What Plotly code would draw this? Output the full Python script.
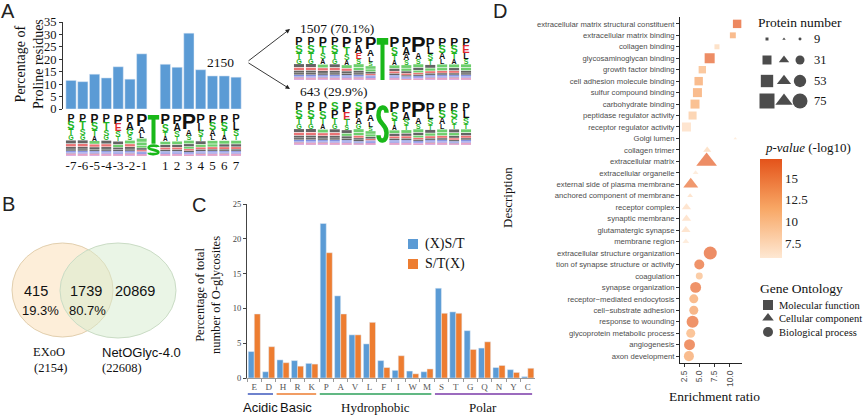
import math
import plotly.graph_objects as go

W, H = 865, 415
TIMES = 'Liberation Serif'
SANS = 'Liberation Sans'

# ---------------- Panel A data ----------------
a_positions = [-7, -6, -5, -4, -3, -2, -1, 1, 2, 3, 4, 5, 6, 7]
a_pos_labels = ['-7', '-6', '-5', '-4', '-3', '-2', '-1', '1', '2', '3', '4', '5', '6', '7']
proline_pct = [11.5, 11.0, 14.0, 12.5, 17.0, 12.0, 22.2, 18.0, 16.8, 30.5, 15.8, 13.3, 13.3, 12.8]
a_y_ticks = [0, 5, 10, 15, 20, 25, 30, 35]
total_sites = 2150
t_sites, t_pct = 1507, '70.1%'
s_sites, s_pct = 643, '29.9%'

# sequence-logo columns (top -> bottom), flanking positions -7..-1, +1..+7
logo_A_cols = ["PSTGAELVKRDQN", "PTSGAELVRKQDN", "PSTAGELVKRDQN", "PTSGAELVRKQDN",
               "PESTAGLVKRQDN", "PAGSTELVKRDQN", "PALSGTVEKRQDN",
               "PSTAGLEVKRQDN", "PASTGLEVRKQDN", "PASTLGEVKRQDN", "PLSTAGEVKRDQN",
               "PSALTGEVKRQDN", "PSTAGLEVKRDQN", "PLSTGAEVRKQDN"]
logo_T_cols = ["PSTGAELVKRDQN", "PSTGAELVRKQDN", "PTSAGELVKRDQN", "PSTGAELVRKQDN",
               "PTSAGELVKRQDN", "PAESTGLVKRDQN", "PALSGTVEKRQDN",
               "PSTAGLEVKRQDN", "PAASTGLEVRKQD", "PASTLGEVKRQDN", "PLSTAGEVKRDQN",
               "PSALTGEVKRQDN", "PSTAGLEVKRDQN", "PELSTGAVRKQDN"]
logo_S_cols = ["PSTGAELVKRDQN", "PSTGAELVRKQDN", "PSTAGELVKRDQN", "SPTGAELVRKQDN",
               "PETSAGLVKRQDN", "SPAGCTELVKRDQ", "PALSGTVEKRQDN",
               "PSTAGLEVKRQDN", "PASTGLEVRKQDN", "PASTLGEVKRQDN", "PLSTAGEVKRDQN",
               "PSALTGEVKRQDN", "PSCTAGLEVKRDQ", "PLSTGAEVRKQDN"]

# ---------------- Panel B data ----------------
venn_counts = [415, 1739, 20869]
venn_pcts = ['19.3%', '80.7%']
venn_sets = ['EXoO', 'NetOGlyc-4.0']
venn_totals = [2154, 22608]

# ---------------- Panel C data ----------------
aa = ['E', 'D', 'H', 'R', 'K', 'P', 'A', 'V', 'L', 'F', 'I', 'W', 'M', 'S', 'T', 'G', 'Q', 'N', 'Y', 'C']
xst = [3.8, 0.9, 2.6, 2.5, 2.1, 22.2, 11.8, 6.2, 4.9, 2.5, 1.1, 1.0, 0.9, 12.9, 9.5, 6.8, 4.3, 1.5, 1.2, 0.2]
stx = [9.2, 4.5, 2.2, 1.7, 2.0, 18.0, 9.2, 6.2, 8.0, 1.5, 3.2, 0.6, 1.3, 9.3, 9.3, 4.1, 5.2, 1.8, 0.8, 1.4]
c_series = ['(X)S/T', 'S/T(X)']
c_colors = ['#5b9bd5', '#ed7d31']
aa_groups = ['Acidic', 'Basic', 'Hydrophobic', 'Polar']
aa_group_members = [['E', 'D'], ['H', 'R', 'K'], ['P', 'A', 'V', 'L', 'F', 'I', 'W', 'M'],
                    ['S', 'T', 'G', 'Q', 'N', 'Y', 'C']]

# ---------------- Panel D data ----------------
go_terms = ['extracellular matrix structural constituent', 'extracellular matrix binding', 'collagen binding',
            'glycosaminoglycan binding', 'growth factor binding', 'cell adhesion molecule binding',
            'sulfur compound binding', 'carbohydrate binding', 'peptidase regulator activity',
            'receptor regulator activity', 'Golgi lumen', 'collagen trimer', 'extracellular matrix',
            'extracellular organelle', 'external side of plasma membrane', 'anchored component of membrane',
            'receptor complex', 'synaptic membrane', 'glutamatergic synapse', 'membrane region',
            'extracellular structure organization', 'tion of synapse structure or activity', 'coagulation',
            'synapse organization', 'receptor\u2212mediated endocytosis', 'cell\u2212substrate adhesion',
            'response to wounding', 'glycoprotein metabolic process', 'angiogenesis', 'axon development']
go_ratio = [11.2, 10.5, 7.9, 6.7, 5.5, 4.9, 4.7, 4.3, 3.9, 2.9,
            10.9, 6.3, 6.2, 4.4, 3.6, 3.5, 2.9, 2.9, 2.8, 2.8,
            6.8, 5.0, 5.0, 4.4, 4.1, 4.1, 3.9, 3.6, 3.4, 3.3]
go_count = [28, 17, 14, 37, 23, 28, 31, 31, 26, 31,
            9, 21, 105, 14, 58, 14, 26, 26, 26, 17,
            58, 37, 21, 43, 31, 31, 50, 31, 43, 37]
go_logp = [17.0, 12.0, 7.5, 16.5, 10.5, 12.0, 12.0, 11.5, 9.0, 7.0,
           6.0, 7.5, 16.5, 6.0, 15.5, 7.0, 7.0, 7.0, 7.0, 6.0,
           16.5, 16.0, 10.0, 16.0, 12.0, 12.5, 16.0, 11.0, 16.0, 12.0]
go_type = ['MF'] * 10 + ['CC'] * 10 + ['BP'] * 10
go_type_names = {'MF': 'Molecular function', 'CC': 'Cellular component', 'BP': 'Biological process'}
size_breaks = [9, 31, 53, 75]
p_ticks = [7.5, 10, 12.5, 15]

SYM = {'MF': 'square', 'CC': 'triangle-up', 'BP': 'circle'}


def size_fn(n):
    return math.sqrt(max(3.27 * n - 20.5, 4.0))


def dx(a, b):
    return [a / W, b / W]


def dy(top, bottom):
    return [1 - bottom / H, 1 - top / H]


fig = go.Figure()
shapes = []
annos = []


def txt(x, y, s, size=13, family=TIMES, color='#111', xanchor='center', yanchor='middle', angle=0):
    annos.append(dict(x=x, y=y, xref='x5', yref='y5', text=s, showarrow=False,
                      font=dict(family=family, size=size, color=color),
                      xanchor=xanchor, yanchor=yanchor, textangle=angle))


# ---------------- Panel A bars ----------------
fig.add_trace(go.Bar(x=a_positions, y=proline_pct, marker_color='#5b9bd5', width=0.87,
                     xaxis='x', yaxis='y', showlegend=False, hoverinfo='skip'))
fig.add_trace(go.Scatter(x=[0], y=[0.5], mode='markers', marker_opacity=0, xaxis='x2', yaxis='y2',
                         showlegend=False, hoverinfo='skip'))

AA_COLOR = {}
for c in 'GSTYC':
    AA_COLOR[c] = (31, 181, 31)
for c in 'AVLIPWFM':
    AA_COLOR[c] = (17, 17, 17)
for c in 'NQ':
    AA_COLOR[c] = (176, 60, 184)
for c in 'KRH':
    AA_COLOR[c] = (60, 80, 210)
for c in 'DE':
    AA_COLOR[c] = (224, 40, 44)
GREEN = '#19b819'


def rgb(c, light=0.0):
    r, g, b = [int(v + (255 - v) * light) for v in c]
    return f'rgb({r},{g},{b})'


def draw_T(cx, t, hh, cw):
    shapes.append(dict(type='rect', xref='x5', yref='y5', x0=cx - cw * 0.48, x1=cx + cw * 0.48,
                       y0=t, y1=t + max(hh * 0.16, 3), fillcolor=GREEN, line_width=0))
    shapes.append(dict(type='rect', xref='x5', yref='y5', x0=cx - cw * 0.17, x1=cx + cw * 0.17,
                       y0=t, y1=t + hh, fillcolor=GREEN, line_width=0))


def draw_S(cx, t, hh, sw, lw):
    t = t + lw / 2
    hh = hh - lw
    l, r = cx - sw / 2 + lw / 2, cx + sw / 2 - lw / 2
    b = t + hh
    path = (f"M {r},{t + 0.2 * hh} C {r},{t} {l},{t} {l},{t + 0.27 * hh} "
            f"C {l},{t + 0.5 * hh} {r},{t + 0.5 * hh} {r},{t + 0.73 * hh} "
            f"C {r},{b} {l},{b} {l},{b - 0.2 * hh}")
    shapes.append(dict(type='path', xref='x5', yref='y5', path=path, line=dict(color=GREEN, width=lw)))


def add_logo(x0, top, w, h, cols, top_fracs, center):
    ncol = len(cols) + 1
    cw = w / ncol
    xs, ys, tx, cl, sz = [], [], [], [], []
    flank = 0
    for i in range(ncol):
        cx = x0 + (i + 0.5) * cw
        if i == ncol // 2:
            y = top
            for letter, frac, lw in center:
                hh = frac * h
                if letter == 'T':
                    draw_T(cx, y, hh, cw)
                else:
                    draw_S(cx, y, hh, cw * 1.05, lw)
                y += hh
            continue
        col = cols[flank]
        f0 = top_fracs[flank]
        flank += 1
        rest = [0.8 ** k for k in range(len(col) - 1)]
        tot = sum(rest)
        fracs = [f0] + [(1 - f0) * r / tot for r in rest]
        y = top
        for k, (letter, fr) in enumerate(zip(col, fracs)):
            hh = fr * h
            if hh >= 4.0:
                xs.append(cx)
                ys.append(y + hh / 2 + 0.5)
                tx.append(letter)
                cl.append(rgb(AA_COLOR[letter]))
                sz.append(hh / 0.72 * (1.0 if k == 0 else 1.1))
            else:
                shapes.append(dict(type='rect', xref='x5', yref='y5', x0=cx - cw * 0.42,
                                   x1=cx + cw * 0.42, y0=y + hh * 0.1, y1=y + hh * 0.9,
                                   fillcolor=rgb(AA_COLOR[letter], 0.35), line_width=0))
            y += hh
    fig.add_trace(go.Scatter(x=xs, y=ys, text=tx, mode='text', xaxis='x5', yaxis='y5',
                             textfont=dict(family=SANS, size=sz, color=cl, weight='bold'),
                             showlegend=False, hoverinfo='skip', cliponaxis=False))


a_fracs = [p / 100 + 0.07 for p in proline_pct]
tf = t_sites / total_sites
add_logo(65, 115, 177, 41, logo_A_cols, a_fracs, [('T', tf, 0), ('S', 1 - tf, 2.6)])
add_logo(293, 38, 179, 42, logo_T_cols, a_fracs, [('T', 1.0, 0)])
add_logo(293, 103, 179, 42, logo_S_cols, a_fracs, [('S', 1.0, 4.5)])

txt(8, 11, 'A', size=20, family=SANS, color='#222')
txt(29, 64, 'Percentage of<br>Proline residues', size=14, angle=-90)
txt(220, 62, str(total_sites), size=13.5)
txt(298, 28, f'{t_sites} ({t_pct})', size=13.5, xanchor='left')
txt(298, 91, f'{s_sites} ({s_pct})', size=13.5, xanchor='left')
for (xe, ye) in [(290, 29), (290, 89)]:
    annos.append(dict(x=xe, y=ye, xref='x5', yref='y5', ax=247, ay=62, axref='x5', ayref='y5',
                      text='', showarrow=True, arrowhead=2, arrowsize=1, arrowwidth=0.9,
                      arrowcolor='#222'))

# ---------------- Panel B (Venn) ----------------
txt(8, 204, 'B', size=20, family=SANS, color='#222')
shapes.append(dict(type='circle', xref='x5', yref='y5', x0=12, x1=113, y0=243, y1=337,
                   fillcolor='rgba(251,224,186,0.55)', line=dict(color='#e2cfae', width=1)))
shapes.append(dict(type='circle', xref='x5', yref='y5', x0=60, x1=176, y0=243, y1=338,
                   fillcolor='rgba(214,236,206,0.5)', line=dict(color='#cadcc5', width=1)))
txt(36, 291, str(venn_counts[0]), size=14.5, family=SANS)
txt(40, 310, venn_pcts[0], size=13, family=SANS)
txt(86, 291, str(venn_counts[1]), size=14.5, family=SANS)
txt(87, 310, venn_pcts[1], size=13, family=SANS)
txt(135, 291, str(venn_counts[2]), size=14.5, family=SANS)
txt(49, 352, venn_sets[0], size=12.5)
txt(50, 368, f'({venn_totals[0]})', size=12.5)
txt(100, 352, venn_sets[1], size=13, family=SANS, xanchor='left')
txt(100, 368, f'({venn_totals[1]})', size=12.5, xanchor='left')

# ---------------- Panel C ----------------
for name, vals, colr in zip(c_series, [xst, stx], c_colors):
    fig.add_trace(go.Bar(x=aa, y=vals, name=name, marker_color=colr, xaxis='x3', yaxis='y3',
                         hoverinfo='skip', showlegend=False))
txt(199, 205, 'C', size=20, family=SANS, color='#222')
txt(208, 295, 'Percentage of total<br>number of O-glycosites', size=12.5, angle=-90)
# manual legend for panel C
fig.add_trace(go.Scatter(x=[413, 413], y=[244, 264], mode='markers', xaxis='x5', yaxis='y5',
                         marker=dict(symbol='square', size=10, color=c_colors, line_width=0),
                         showlegend=False, hoverinfo='skip', cliponaxis=False))
for name, yy in zip(c_series, [244, 264]):
    txt(423, yy, name, size=14, xanchor='left')
grp_colors = ['#4a62c0', '#ed7d31', '#2ca05a', '#7a3aa8']
grp_fonts = [SANS, SANS, TIMES, TIMES]
for g, mem, colr, fam in zip(aa_groups, aa_group_members, grp_colors, grp_fonts):
    i0, i1 = aa.index(mem[0]), aa.index(mem[-1])
    shapes.append(dict(type='line', xref='x3', yref='y5', x0=i0 - 0.45, x1=i1 + 0.3, y0=394, y1=394,
                       line=dict(color=colr, width=1.6)))
    cxp = 254 + 14.4 * ((i0 - 0.45 + i1 + 0.3) / 2)
    txt(cxp, 407, g, size=13, family=fam)

# ---------------- Panel D ----------------
fig.add_trace(go.Scatter(
    x=go_ratio, y=go_terms, mode='markers', xaxis='x4', yaxis='y4', showlegend=False, hoverinfo='skip',
    marker=dict(symbol=[SYM[t] for t in go_type], size=[size_fn(n) for n in go_count],
                color=go_logp, cmin=5.8, cmax=17.2,
                colorscale=[[0, '#fee8d3'], [0.5, '#f8a765'], [1, '#e4531a']],
                line=dict(width=0),
                colorbar=dict(x=760 / W, xanchor='left', y=1 - 159 / H, yanchor='top',
                              len=99 / H, lenmode='fraction', thickness=22, thicknessmode='pixels',
                              outlinewidth=0, ticks='', tickvals=p_ticks,
                              ticktext=['7.5', '10', '12.5', '15'], xpad=0, ypad=0,
                              tickfont=dict(family=TIMES, size=13, color='#222')))))
txt(500, 11, 'D', size=20, family=SANS, color='#222')
txt(507, 198, 'Description', size=13, angle=-90)
txt(714, 396, 'Enrichment ratio', size=13.5)
txt(756, 22, 'Protein number', size=13.5, xanchor='left')
txt(763, 147, '<i>p-value</i> (-log10)', size=13, xanchor='left')
txt(758, 288, 'Gene Ontology', size=13.5, xanchor='left')

# protein-number legend glyphs
row_y = [39, 60, 81, 101]
lx, ly, ls, lsym = [], [], [], []
for n, yy in zip(size_breaks, row_y):
    for xx, t in zip([767, 784, 800], ['MF', 'CC', 'BP']):
        lx.append(xx)
        ly.append(yy)
        ls.append(size_fn(n))
        lsym.append(SYM[t])
    txt(812, yy, str(n), size=12.5, xanchor='left')
go_y = [305, 318, 332]
for t, yy in zip(['MF', 'CC', 'BP'], go_y):
    lx.append(768)
    ly.append(yy)
    ls.append(10)
    lsym.append(SYM[t])
    txt(777, yy, go_type_names[t], size=10.5, xanchor='left')
fig.add_trace(go.Scatter(x=lx, y=ly, mode='markers', xaxis='x5', yaxis='y5', showlegend=False,
                         hoverinfo='skip', cliponaxis=False,
                         marker=dict(color='#000', size=ls, symbol=lsym, line_width=0)))

fig.update_layout(
    width=W, height=H, margin=dict(l=0, r=0, t=0, b=0),
    paper_bgcolor='white', plot_bgcolor='rgba(0,0,0,0)',
    barmode='group', bargap=0.16, bargroupgap=0.0,
    showlegend=False,
    xaxis=dict(domain=dx(63, 243), range=[-7.68, 7.59], showticklabels=False, showline=False,
               zeroline=False, showgrid=False, anchor='y', ticks=''),
    yaxis=dict(domain=dy(22, 109), range=[0, 35], tickvals=a_y_ticks, ticks='outside', ticklen=3,
               showline=True, linecolor='#333', linewidth=1, tickcolor='#333',
               tickfont=dict(family=TIMES, size=12.5, color='#111'), showgrid=False, zeroline=False,
               anchor='x', automargin=False),
    xaxis2=dict(domain=dx(63, 243), range=[-7.68, 7.59], anchor='y2', tickvals=a_positions,
                ticktext=a_pos_labels, showline=False, ticks='', showgrid=False, zeroline=False,
                tickangle=0, automargin=False,
                tickfont=dict(family=TIMES, size=13, color='#111')),
    yaxis2=dict(domain=dy(115, 156), range=[0, 1], visible=False, anchor='x2'),
    xaxis3=dict(domain=dx(247, 535), type='category', categoryorder='array', categoryarray=aa,
                anchor='y3', showline=True, linecolor='#9a9a9a', ticks='outside', tickson='boundaries',
                ticklen=3, tickcolor='#9a9a9a', showgrid=False, tickangle=0, automargin=False,
                tickfont=dict(family=TIMES, size=9, color='#555')),
    yaxis3=dict(domain=dy(204, 378), range=[0, 25], dtick=5, anchor='x3', showline=True,
                linecolor='#444', ticks='outside', ticklen=3, tickcolor='#444', showgrid=False,
                zeroline=False, automargin=False, tickfont=dict(family=TIMES, size=8.5, color='#444')),
    xaxis4=dict(domain=dx(680, 742), range=[1.84, 12.0], tickvals=[2.5, 5, 7.5, 10],
                ticktext=['2.5', '5.0', '7.5', '10.0'], tickangle=-90, anchor='y4', showline=True,
                linecolor='#222', ticks='outside', ticklen=3, tickcolor='#333', showgrid=False,
                zeroline=False, automargin=False, tickfont=dict(family=SANS, size=8.5, color='#4d4d4d')),
    yaxis4=dict(domain=dy(17, 363), type='category', categoryorder='array', categoryarray=go_terms,
                range=[29.6, -0.6], anchor='x4', showline=True, linecolor='#222', ticks='outside',
                ticklen=3, tickcolor='#333', showgrid=False, automargin=False,
                tickfont=dict(family=SANS, size=7.7, color='#4d4d4d')),
    xaxis5=dict(domain=[0, 1], range=[0, W], visible=False, anchor='y5', fixedrange=True),
    yaxis5=dict(domain=[0, 1], range=[H, 0], visible=False, anchor='x5', fixedrange=True),
    shapes=shapes, annotations=annos,
)

fig.write_html('out.html', config={'displayModeBar': False},
               post_script="document.body.style.margin='0px';document.body.style.overflow='hidden';")
